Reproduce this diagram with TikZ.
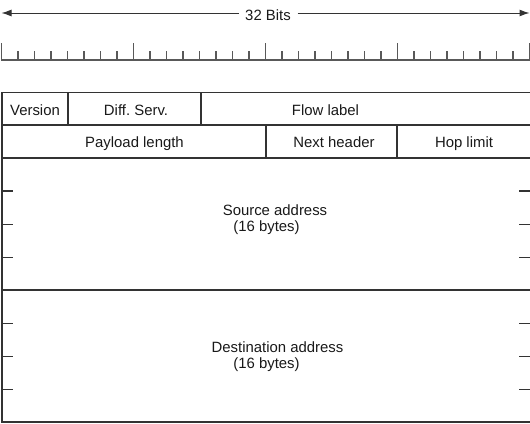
\documentclass[tikz,border=0pt]{standalone}
\usepackage{fontspec}
\setmainfont{Liberation Sans}
\usetikzlibrary{arrows.meta}
\frenchspacing
\begin{document}
\begin{tikzpicture}[x=1pt,y=-1pt,
  lbl/.style={inner sep=0pt, anchor=base, font=\fontsize{14.9}{17}\selectfont, text=black!90},
  rule/.style={draw=black!80, line width=1.2pt},
  ruler/.style={draw=black!65, line width=1.2pt},
  tip/.style={-{Latex[length=10pt,width=7pt]}}]
\useasboundingbox (0,0) rectangle (530,423);
% width arrow
\node[lbl] (bits) at (268,20.5) {32 Bits};
\coordinate (aL) at (1.5,13);
\coordinate (aR) at (529.5,13);
\coordinate (aLs) at (239,13);
\coordinate (aRs) at (297.5,13);
\draw[rule,line width=1pt,tip] (aLs) -- (aL);
\draw[rule,line width=1pt,tip] (aRs) -- (aR);
% ruler
\draw[ruler] (1.5,60) -- (529.5,60);
\foreach \i in {0,...,32}{
  \pgfmathsetmacro{\xx}{1.5+16.5*\i}
  \pgfmathtruncatemacro{\mm}{mod(\i,8)}
  \ifnum\mm=0
    \draw[ruler] (\xx,60.6) -- (\xx,42.5);
  \else
    \draw[ruler] (\xx,60.6) -- (\xx,51);
  \fi
}
% table frame
\foreach \yy in {92.5,125,158,290,422}{
  \draw[rule] (1.5,\yy) -- (531,\yy);
}
\draw[rule] (2,92) -- (2,422.6);
\draw[rule] (68,92.5) -- (68,125);
\draw[rule] (201,92.5) -- (201,125);
\draw[rule] (266,125) -- (266,158);
\draw[rule] (397,125) -- (397,158);
% side ticks
\foreach \yy in {191,224.3,257.3,323.3,356.7,389.3}{
  \draw[rule] (2,\yy) -- (12.5,\yy);
  \draw[rule] (519,\yy) -- (531,\yy);
}
% labels
\node[lbl] (version) at (35,115.5) {Version};
\node[lbl] (diff) at (136,115.5) {Diff. Serv.};
\node[lbl] (flow) at (325.5,115.5) {Flow label};
\node[lbl] (payload) at (134.5,147.5) {Payload length};
\node[lbl] (next) at (334,147.5) {Next header};
\node[lbl] (hop) at (464,147.5) {Hop limit};
\node[lbl] (src) at (275,215) {Source address};
\node[lbl] (srcb) at (266.5,231) {(16 bytes)};
\node[lbl] (dst) at (277.5,352) {Destination address};
\node[lbl] (dstb) at (266.5,368) {(16 bytes)};
\end{tikzpicture}
\end{document}
